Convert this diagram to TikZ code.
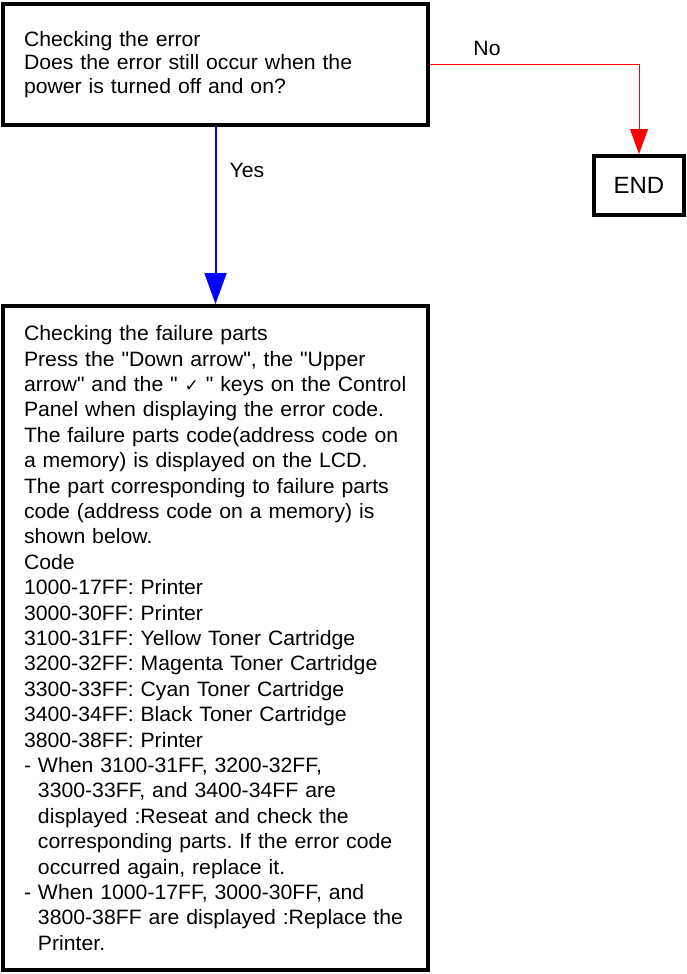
\documentclass[tikz,border=0pt]{standalone}
\usepackage{fontspec}
\setmainfont{Liberation Sans}[FakeStretch=1.02, Ligatures=TeXOff]
\newfontfamily\dejavu{DejaVu Sans}
\usetikzlibrary{arrows.meta}
\frenchspacing
\begin{document}
\begin{tikzpicture}[x=1pt,y=-1pt,
  txt/.style={font=\fontsize{20.8}{23.4}\selectfont},
  btxt/.style={font=\fontsize{20.8}{25.4}\selectfont},
  box/.style={draw, line width=4pt, inner xsep=21pt, inner ysep=0pt, align=left,
              text width=383pt, minimum width=425pt},
  endbox/.style={draw, line width=4pt, minimum width=90pt, minimum height=59pt,
                 font=\fontsize{23.5}{26}\selectfont},
  noarrow/.style={red, line width=1pt, -{Triangle[length=25pt,width=18pt]}},
  yesarrow/.style={blue, line width=2pt, -{Triangle[length=31pt,width=22pt]}}]
\useasboundingbox (0,0) rectangle (686,974);
\fill[white] (0,0) rectangle (686,974);
\node[box, txt, minimum height=121pt] (q) at (215.5,64.5)
  {Checking the error\\Does the error still occur when the\\power is turned off and on?};
\node[endbox] (end) at (639,185.5) {END};
\node[box, btxt, minimum height=664pt] (parts) at (215.5,638)
  {Checking the failure parts\\
   Press the "Down arrow", the "Upper\\
   arrow" and the " {\dejavu\fontsize{17}{17}\selectfont ✓} " keys on the Control\\
   Panel when displaying the error code.\\
   The failure parts code(address code on\\
   a memory) is displayed on the LCD.\\
   The part corresponding to failure parts\\
   code (address code on a memory) is\\
   shown below.\\
   Code\\
   1000-17FF: Printer\\
   3000-30FF: Printer\\
   3100-31FF: Yellow Toner Cartridge\\
   3200-32FF: Magenta Toner Cartridge\\
   3300-33FF: Cyan Toner Cartridge\\
   3400-34FF: Black Toner Cartridge\\
   3800-38FF: Printer\\
   - When 3100-31FF, 3200-32FF,\\
   \hphantom{-\ }3300-33FF, and 3400-34FF are\\
   \hphantom{-\ }displayed :Reseat and check the\\
   \hphantom{-\ }corresponding parts. If the error code\\
   \hphantom{-\ }occurred again, replace it.\\
   - When 1000-17FF, 3000-30FF, and\\
   \hphantom{-\ }3800-38FF are displayed :Replace the\\
   \hphantom{-\ }Printer.};
\node[txt] (no) at (487,48) {No};
\node[txt] (yes) at (247,170) {Yes};
\draw[noarrow] (q.east) -| (end.north);
\draw[yesarrow] (q.south) -- (parts.north);
\end{tikzpicture}
\end{document}
